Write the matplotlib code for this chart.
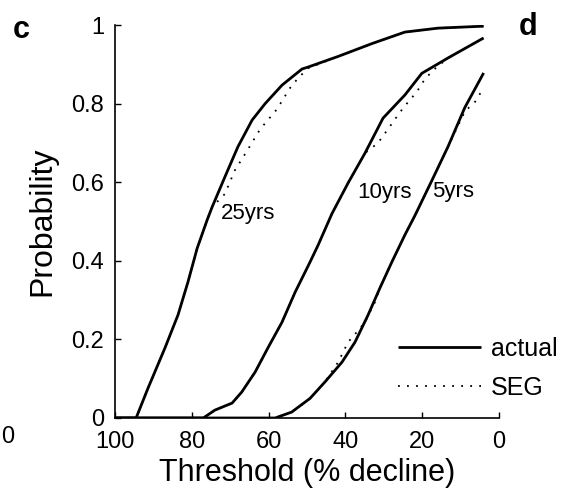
import matplotlib
matplotlib.use("Agg")
import matplotlib.pyplot as plt
from matplotlib.lines import Line2D

plt.rcParams['font.family'] = ['Liberation Sans', 'DejaVu Sans']

# ---- data (threshold % decline vs probability) ----
thr25 = [100, 94.5, 91.4, 87, 83.6, 81, 78.6, 76, 74.7, 71.4, 68, 64.3, 60.9, 56.5, 51.3, 49.7, 41.9, 33, 24.5, 15.9, 4]
p25 = [0, 0, 0.076, 0.178, 0.262, 0.346, 0.432, 0.504, 0.537, 0.613, 0.69, 0.758, 0.80, 0.847, 0.888, 0.893, 0.92, 0.953, 0.982, 0.992, 0.997]
thr25_seg = [100, 94.5, 91.4, 87, 83.6, 81, 78.6, 76, 74.7, 71.4, 68.8, 65.6, 62.2, 60.2, 57.8, 56.3, 54.4, 52.3, 49.7, 41.9, 33, 24.5, 15.9, 4]
p25_seg = [0, 0, 0.076, 0.178, 0.262, 0.346, 0.432, 0.504, 0.537, 0.57, 0.63, 0.68, 0.735, 0.758, 0.786, 0.81, 0.84, 0.865, 0.89, 0.92, 0.953, 0.982, 0.992, 0.997]

thr10 = [100, 77, 74, 69.5, 67, 63.5, 60.2, 56.5, 53.1, 49.2, 47.1, 43.5, 39.3, 34.9, 30.2, 24.5, 20.1, 13.3, 4]
p10 = [0, 0, 0.02, 0.038, 0.066, 0.117, 0.178, 0.244, 0.32, 0.397, 0.44, 0.52, 0.598, 0.674, 0.763, 0.822, 0.877, 0.916, 0.967]
thr10_seg = [100, 77, 74, 69.5, 67, 63.5, 60.2, 56.5, 53.1, 49.2, 47.1, 43.5, 39.3, 34.9, 31.5, 27.6, 25.8, 24, 21.4, 19.8, 17.5, 13.3, 4]
p10_seg = [0, 0, 0.02, 0.038, 0.066, 0.117, 0.178, 0.244, 0.32, 0.397, 0.44, 0.52, 0.598, 0.674, 0.70, 0.753, 0.778, 0.80, 0.83, 0.855, 0.882, 0.916, 0.967]

thr5 = [100, 58.3, 54, 49.2, 45.3, 40.9, 37.5, 34.1, 31, 27.9, 24.5, 21.9, 17.4, 13.3, 8.9, 4]
p5 = [0, 0, 0.015, 0.05, 0.092, 0.142, 0.193, 0.262, 0.331, 0.397, 0.466, 0.515, 0.606, 0.69, 0.79, 0.878]
thr5_seg = [100, 58.3, 54, 49.2, 45.3, 41.9, 39.3, 37, 34.9, 33.6, 32.3, 31, 27.9, 24.5, 21.9, 17.4, 13.3, 8.9, 6.2, 4]
p5_seg = [0, 0, 0.015, 0.05, 0.092, 0.142, 0.193, 0.219, 0.244, 0.27, 0.295, 0.331, 0.397, 0.466, 0.515, 0.606, 0.69, 0.78, 0.805, 0.84]

curve_labels = ['25yrs', '10yrs', '5yrs']
label_pos_thr = [72.3, 36.8, 17.4]
label_pos_p = [0.52, 0.573, 0.576]

xticks = [100, 80, 60, 40, 20, 0]
yticks = [0, 0.2, 0.4, 0.6, 0.8, 1]
ytick_labels = ['0', '0.2', '0.4', '0.6', '0.8', '1']

# ---- figure ----
fig = plt.figure(figsize=(5.64, 4.97), dpi=100)
ax = fig.add_axes([115/564, 1 - 418/497, (499-115)/564, (418-25)/497])

dot_style = dict(color='black', lw=1.3, linestyle=(0, (1, 4)))
solid_style = dict(color='black', lw=2.0, solid_capstyle='butt')

ax.plot(thr25_seg, p25_seg, **dot_style)
ax.plot(thr10_seg, p10_seg, **dot_style)
ax.plot(thr5_seg, p5_seg, **dot_style)
ax.plot(thr25, p25, **solid_style)
ax.plot(thr10, p10, **solid_style)
ax.plot(thr5, p5, **solid_style)

for lab, tx, ty in zip(curve_labels, label_pos_thr, label_pos_p):
    ax.text(tx, ty, lab, ha='left', va='center', fontsize=16)

ax.set_xlim(100, 0)
ax.set_ylim(0, 1)
ax.set_xticks(xticks)
ax.set_xticklabels([str(v) for v in xticks])
ax.set_yticks(yticks)
ax.set_yticklabels(ytick_labels)
ax.tick_params(direction='in', length=4, width=1, labelsize=17)
ax.tick_params(axis='x', pad=9)
ax.tick_params(axis='y', pad=8)
for s in ['top', 'right']:
    ax.spines[s].set_visible(False)
for s in ['left', 'bottom']:
    ax.spines[s].set_linewidth(1.2)

ax.set_xlabel('Threshold (% decline)', fontsize=22, labelpad=4)
ax.set_ylabel('Probability', fontsize=23, labelpad=10)

handles = [Line2D([], [], **solid_style), Line2D([], [], **dot_style)]
leg = ax.legend(handles, ['actual', 'SEG'], loc='lower left',
                bbox_to_anchor=(398/564, 1 - 400/497), bbox_transform=fig.transFigure,
                frameon=False, fontsize=18, handlelength=3.3, handletextpad=0.4,
                labelspacing=0.6, borderpad=0, borderaxespad=0)

fig.text(21/564, 1 - 30/497, 'c', fontsize=22, fontweight='bold', ha='center', va='center')
fig.text(528/564, 1 - 27/497, 'd', fontsize=22, fontweight='bold', ha='center', va='center')
fig.text(1/564, 1 - 437/497, '0', fontsize=17, ha='left', va='center')

fig.savefig('out.png', dpi=100)
